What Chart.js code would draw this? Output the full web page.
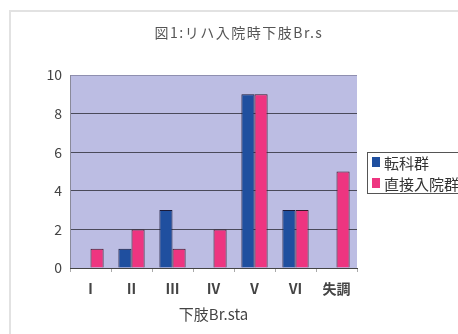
<!DOCTYPE html>
<html>
<head>
<meta charset="utf-8">
<script src="https://cdn.jsdelivr.net/npm/chart.js@4.4.1/dist/chart.umd.min.js"></script>
<style>
    html, body { margin: 0; padding: 0; background: #fff; overflow: hidden; }
    #wrap { position: relative; width: 458px; height: 334px; }
    #frame { position: absolute; left: 9px; top: 10px; right: -20px; bottom: -20px;
             border-left: 2px solid #e2e2e2; border-top: 2px solid #e2e2e2; }
    canvas { position: absolute; left: 0; top: 0; }
</style>
</head>
<body>
<div id="wrap">
    <div id="frame"></div>
    <canvas id="chart" width="458" height="334"></canvas>
</div>
<script>
const Chart_Title = "図1:リハ入院時下肢Br.s";
const X_Title = "下肢Br.sta";
const Stages = ["Ⅰ", "Ⅱ", "Ⅲ", "Ⅳ", "Ⅴ", "Ⅵ", "失調"];
const Tenka_Group = [0, 1, 3, 0, 9, 3, 0];
const Direct_Group = [1, 2, 1, 2, 9, 3, 5];
const Y_Ticks = [0, 2, 4, 6, 8, 10];

const FONT = "'Noto Sans CJK JP', 'Noto Sans', sans-serif";

// lavender plot background + title + boxed legend on the right
const decorations = {
    id: "decorations",
    beforeDraw(chart) {
        const ctx = chart.ctx;
        const a = chart.chartArea;
        ctx.save();
        ctx.fillStyle = "#bcbde3";
        ctx.fillRect(a.left, a.top, a.right - a.left, a.bottom - a.top);
        ctx.restore();
    },
    afterDraw(chart) {
        const ctx = chart.ctx;
        ctx.save();
        // title
        ctx.font = "14px " + FONT;
        ctx.letterSpacing = "1.5px";
        ctx.fillStyle = "#555";
        ctx.textAlign = "center";
        ctx.textBaseline = "middle";
        ctx.fillText(Chart_Title, 239, 33);
        ctx.letterSpacing = "0px";

        // legend
        ctx.strokeStyle = "#555";
        ctx.lineWidth = 1;
        ctx.strokeRect(367.5, 152.5, 110, 41);
        ctx.font = "15px " + FONT;
        ctx.textAlign = "left";
        chart.data.datasets.forEach((ds, i) => {
            const y = 162 + i * 21;
            ctx.fillStyle = ds.backgroundColor;
            ctx.fillRect(372, y - 5, 8, 10);
            ctx.fillStyle = "#333";
            ctx.fillText(ds.label, 384, y + 1);
        });
        ctx.restore();
    }
};

new Chart(document.getElementById("chart"), {
    type: "bar",
    data: {
        labels: Stages,
        datasets: [{
            label: "転科群",
            data: Tenka_Group,
            backgroundColor: "#1f4f9f",
            borderColor: "#1a1a3a",
            borderWidth: 1
        }, {
            label: "直接入院群",
            data: Direct_Group,
            backgroundColor: "#ee3580",
            borderColor: "#3a1a2a",
            borderWidth: 1
        }]
    },
    options: {
        responsive: false,
        animation: false,
        layout: { padding: { left: 10, top: 75, right: 101, bottom: 0 } },
        datasets: { bar: { categoryPercentage: 0.64, barPercentage: 1 } },
        plugins: {
            legend: { display: false },
            title: { display: false },
            tooltip: { enabled: false }
        },
        scales: {
            y: {
                min: 0,
                max: 10,
                afterBuildTicks(scale) {
                    scale.ticks = Y_Ticks.map(v => ({ value: v }));
                },
                afterFit(scale) { scale.width = 60; },
                grid: {
                    color: (c) => c.tick && c.tick.value === 10 ? "#8f8fb0" : "#4a4a5a",
                    drawTicks: false
                },
                border: { display: true, color: "#8a8a9a" },
                ticks: {
                    font: { family: FONT, size: 14 },
                    color: "#444",
                    padding: 8
                }
            },
            x: {
                afterFit(scale) { scale.height = 66; },
                grid: {
                    offset: true,
                    drawOnChartArea: false,
                    tickLength: 4,
                    color: "#aaa"
                },
                border: { display: true, color: "#444" },
                ticks: {
                    font: { family: FONT, size: 14, weight: "bold" },
                    color: "#444",
                    padding: 8
                },
                title: {
                    display: true,
                    text: X_Title,
                    font: { family: FONT, size: 15 },
                    color: "#444",
                    padding: { top: 2, bottom: 11 }
                }
            }
        }
    },
    plugins: [decorations]
});
</script>
</body>
</html>
